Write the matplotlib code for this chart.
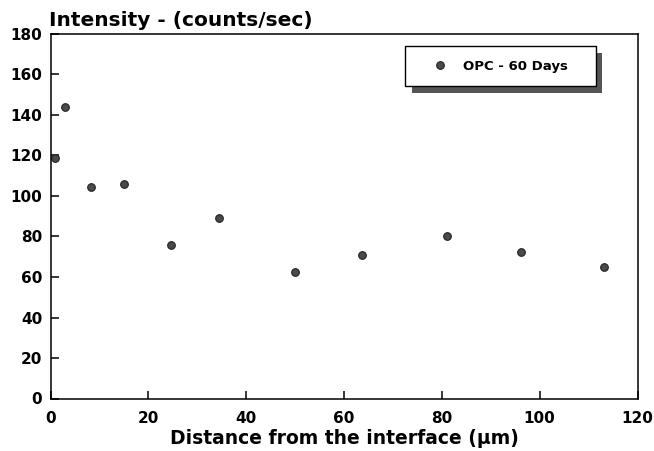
import numpy as np
import matplotlib
matplotlib.use('Agg')
import matplotlib.pyplot as plt
from matplotlib.patches import Rectangle

# Data
distance = [0.9, 3.0, 8.3, 15.0, 24.6, 34.5, 49.9, 63.7, 81.1, 96.1, 113.1]  # um
intensity = [118.9, 144.1, 104.4, 105.7, 75.9, 89.2, 62.4, 71.1, 80.0, 72.1, 64.7]  # counts/sec
series_label = 'OPC - 60 Days'
x_ticks = [0, 20, 40, 60, 80, 100, 120]
y_ticks = [0, 20, 40, 60, 80, 100, 120, 140, 160, 180]

plt.rcParams['font.family'] = ['DejaVu Sans']

fig = plt.figure(figsize=(6.54, 4.51), dpi=100)
ax = fig.add_axes([50.5 / 654, 1 - 398.5 / 451, 587 / 654, 364.5 / 451])

ax.plot(distance, intensity, linestyle='none', marker='o', markersize=5.5,
        markerfacecolor='#4a4a4a', markeredgecolor='#222222', markeredgewidth=0.8,
        label=series_label, clip_on=False)

ax.set_xlim(0, 120)
ax.set_ylim(0, 180)
ax.set_xticks(x_ticks)
ax.set_yticks(y_ticks)
ax.tick_params(direction='in', length=6, width=1.1, labelsize=11, pad=6)
ax.tick_params(axis='x', pad=9)
for lab in ax.get_xticklabels() + ax.get_yticklabels():
    lab.set_fontweight('bold')
for sp in ax.spines.values():
    sp.set_linewidth(1.1)

ax.set_xlabel('Distance from the interface (µm)', fontsize=13.5, fontweight='bold', labelpad=2)
ax.text(-0.002, 1.022, 'Intensity - (counts/sec)', transform=ax.transAxes,
        fontsize=14.5, fontweight='bold', ha='left', va='baseline')

# legend box with offset drop shadow
bx0, bx1, by0, by1 = 0.604, 0.929, 0.857, 0.967
ax.add_patch(Rectangle((bx0 + 0.011, by0 - 0.018), bx1 - bx0, by1 - by0,
                       transform=ax.transAxes, facecolor='#555555', edgecolor='none', zorder=4))
ax.add_patch(Rectangle((bx0, by0), bx1 - bx0, by1 - by0, transform=ax.transAxes,
                       facecolor='white', edgecolor='black', linewidth=1.0, zorder=5))
leg = ax.legend(loc='center', bbox_to_anchor=((bx0 + bx1) / 2, (by0 + by1) / 2),
                frameon=False, handletextpad=1.2, handlelength=1.0,
                prop={'weight': 'bold', 'size': 9.5})
leg.set_zorder(6)

plt.savefig('out.png', dpi=100)
